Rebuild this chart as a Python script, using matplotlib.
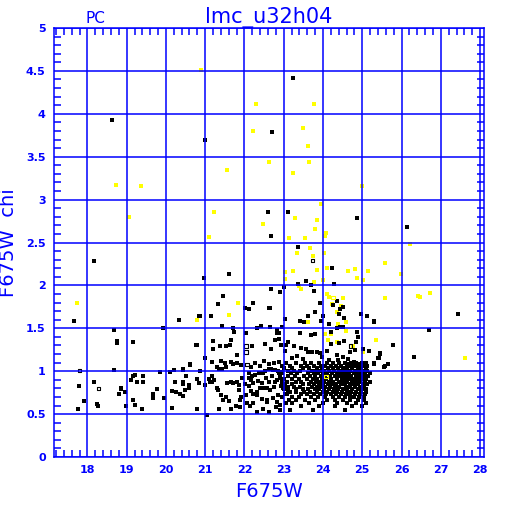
import numpy as np
import matplotlib
matplotlib.use("Agg")
from matplotlib import pyplot as plt
from matplotlib.ticker import MultipleLocator

# sparse black stars (F675W, chi)
sparse_pts = [
    (23.23, 4.42), (22.70, 3.79), (20.99, 3.69), (18.63, 3.93), (22.60, 2.85), (23.11, 2.86),
    (24.86, 2.79), (22.67, 2.58), (23.36, 2.45), (21.60, 2.13), (24.23, 2.20), (20.97, 2.09),
    (23.36, 2.02), (23.57, 2.05), (23.70, 2.00), (24.28, 2.02), (22.68, 1.96), (23.01, 1.98),
    (22.90, 1.92), (23.77, 1.94), (21.46, 1.88), (18.17, 2.28), (17.66, 1.59), (18.68, 1.48),
    (18.75, 1.35), (18.75, 1.33), (19.15, 1.34), (19.92, 1.50), (20.33, 1.60), (20.85, 1.64),
    (20.77, 1.31), (20.61, 1.07), (26.13, 2.68), (27.44, 1.67), (25.30, 1.59), (25.30, 1.57),
    (26.69, 1.48), (25.77, 1.31), (25.45, 1.21), (25.42, 1.15), (26.33, 1.17), (25.30, 1.09),
    (25.65, 1.08), (25.55, 1.05), (25.20, 0.98), (25.20, 0.87), (21.33, 1.78), (22.21, 1.80),
    (22.11, 1.73), (22.65, 1.74), (23.92, 1.80), (24.35, 1.82), (24.25, 1.77), (24.50, 1.75),
    (24.43, 1.72), (23.79, 1.69), (24.40, 1.67), (24.96, 1.67), (20.87, 1.64), (21.16, 1.64),
    (23.62, 1.64), (23.99, 1.64), (24.53, 1.62), (25.11, 1.64), (23.04, 1.61), (23.41, 1.58),
    (23.52, 1.57), (23.94, 1.58), (24.16, 1.55), (21.43, 1.53), (22.42, 1.53), (22.33, 1.50),
    (22.65, 1.51), (21.72, 1.50), (22.96, 1.51), (24.43, 1.51), (24.52, 1.52), (21.73, 1.46),
    (22.04, 1.45), (22.82, 1.48), (22.87, 1.44), (23.41, 1.44), (23.79, 1.43), (24.20, 1.46),
    (24.35, 1.50), (24.86, 1.46), (22.02, 1.74), (22.63, 1.74), (22.84, 1.45),
]

# left group, x < 21
left_pts = [
    (18.69, 1.01), (19.85, 0.99), (20.10, 0.99), (20.20, 1.01), (20.44, 1.01), (19.20, 0.96),
    (19.15, 0.94), (19.10, 0.90), (19.41, 0.94), (19.26, 0.87), (19.41, 0.87), (18.17, 0.87),
    (20.22, 0.87), (20.43, 0.86), (17.78, 0.83), (18.85, 0.80), (18.85, 0.79), (18.95, 0.76),
    (18.80, 0.73), (19.76, 0.79), (19.68, 0.73), (19.66, 0.69), (19.95, 0.69), (20.15, 0.77),
    (20.26, 0.76), (20.36, 0.73), (20.43, 0.71), (17.91, 0.65), (19.15, 0.66), (18.24, 0.62),
    (18.27, 0.59), (18.98, 0.59), (19.20, 0.61), (17.76, 0.56), (19.39, 0.56), (20.15, 0.57),
    (20.44, 1.03), (20.51, 0.95), (20.44, 0.87), (20.60, 0.81), (20.80, 0.56), (21.04, 0.49),
    (20.78, 1.31), (21.00, 1.15),
]

# 21 - 23 band
mid_pts = [
    (21.73, 1.46), (20.77, 1.31), (21.21, 1.35), (21.53, 1.29), (21.63, 1.31), (21.65, 1.36),
    (22.19, 1.29), (22.53, 1.32), (22.67, 1.26), (22.77, 1.36), (22.89, 1.38), (22.92, 1.30),
    (23.06, 1.30), (23.04, 1.23), (21.38, 1.29), (21.21, 1.26), (21.80, 1.19), (21.17, 1.11),
    (21.41, 1.12), (21.51, 1.10), (21.65, 1.11), (21.72, 1.08), (21.82, 1.10), (21.92, 1.07),
    (20.61, 1.08), (21.29, 1.05), (21.36, 1.02), (21.44, 1.02), (21.54, 1.05), (22.17, 1.05),
    (22.28, 1.09), (22.40, 1.06), (22.50, 1.12), (22.62, 1.08), (22.75, 1.09), (22.87, 1.11),
    (20.44, 0.85), (20.60, 0.84), (20.49, 0.78), (20.80, 0.91), (20.87, 1.00), (20.83, 0.86),
    (21.00, 0.84), (21.12, 0.87), (21.17, 0.87), (21.22, 0.90), (21.17, 0.95), (21.09, 0.91),
    (21.29, 0.81), (21.33, 0.78), (21.41, 0.72), (21.46, 0.66), (21.53, 0.70), (21.60, 0.65),
    (21.55, 0.86), (21.65, 0.88), (21.72, 0.86), (21.80, 0.87), (21.85, 0.84), (21.85, 0.78),
    (21.92, 0.70), (21.89, 0.66), (21.36, 0.56), (21.65, 0.56), (21.78, 0.59), (21.89, 0.58),
    (20.78, 0.56), (22.11, 0.92), (22.17, 0.90), (22.23, 0.86), (22.12, 0.83), (22.16, 0.77),
    (22.23, 0.74), (22.33, 0.76), (22.40, 0.80), (22.50, 0.81), (22.45, 0.86), (22.58, 0.80),
    (22.65, 0.78), (22.75, 0.82), (22.79, 0.87), (22.84, 0.90), (22.90, 0.92), (22.94, 0.83),
    (22.99, 0.81), (23.06, 0.80), (22.87, 0.98), (22.96, 0.99), (22.79, 1.01), (22.73, 1.01),
    (22.68, 1.03), (22.62, 1.02), (22.53, 1.00), (22.46, 0.98), (22.38, 0.98), (22.26, 0.96),
    (22.19, 0.94), (22.12, 0.98), (22.31, 0.72), (22.45, 0.68), (22.58, 0.66), (22.72, 0.69),
    (22.85, 0.72), (22.96, 0.70), (23.04, 0.74), (23.11, 0.77), (22.06, 0.63), (22.14, 0.59),
    (22.23, 0.63), (22.57, 0.64), (22.82, 0.64), (22.90, 0.61), (23.06, 0.63), (23.13, 0.66),
    (22.90, 0.55), (22.80, 0.58), (22.31, 0.52), (22.48, 0.56), (22.63, 0.52), (21.95, 0.92),
    (22.02, 0.85), (22.55, 0.92), (22.70, 0.95), (22.35, 0.89), (22.62, 0.88), (22.05, 0.72),
]

# upper part of the main clump, 23 - 25.8
upper_pts = [
    (23.41, 1.44), (23.69, 1.42), (23.80, 1.43), (23.12, 1.34), (23.25, 1.29), (23.44, 1.27),
    (23.56, 1.26), (23.63, 1.22), (23.73, 1.22), (23.85, 1.22), (23.92, 1.21), (24.09, 1.24),
    (24.20, 1.32), (24.41, 1.33), (24.53, 1.35), (24.83, 1.34), (24.90, 1.40), (25.02, 1.26),
    (25.17, 1.24), (25.44, 1.20), (25.39, 1.15), (25.58, 1.06), (25.77, 1.31), (25.29, 1.08),
    (24.70, 1.22), (24.82, 1.25), (24.36, 1.19), (24.51, 1.16), (24.63, 1.14), (24.37, 1.13),
    (24.65, 1.08), (24.78, 1.11), (24.90, 1.08), (25.10, 1.08), (23.20, 1.15), (23.35, 1.18),
    (23.50, 1.14), (23.98, 1.16), (24.15, 1.13),
]

# dense core, one row of x values per chi level
core_rows = {
    1.10: [23.05, 23.30, 23.55, 23.70, 23.90, 24.10, 24.25, 24.40, 24.55, 24.72, 24.85, 25.00, 25.10],
    1.065: [22.95, 23.15, 23.45, 23.60, 23.78, 23.95, 24.05, 24.20, 24.32, 24.45, 24.60,
            24.70, 24.80, 24.95, 25.05, 25.12],
    1.035: [23.00, 23.20, 23.50, 23.65, 23.85, 23.98, 24.12, 24.25, 24.38, 24.50, 24.62,
            24.75, 24.88, 24.98, 25.10],
    1.00: [22.85, 23.10, 23.25, 23.42, 23.72, 23.82, 23.92, 24.02, 24.15, 24.28, 24.40,
           24.52, 24.60, 24.70, 24.82, 24.92, 25.02, 25.12],
    0.975: [22.95, 23.18, 23.35, 23.62, 23.78, 23.88, 24.00, 24.10, 24.22, 24.35,
            24.45, 24.55, 24.65, 24.78, 24.88, 24.98, 25.08],
    0.94: [22.90, 23.12, 23.28, 23.52, 23.68, 23.80, 23.95, 24.05, 24.18, 24.30, 24.42,
           24.50, 24.60, 24.72, 24.85, 24.95, 25.05, 25.15],
    0.915: [23.00, 23.22, 23.38, 23.60, 23.75, 23.85, 23.98, 24.08, 24.20, 24.35,
            24.48, 24.58, 24.68, 24.80, 24.90, 25.00, 25.10],
    0.88: [22.95, 23.08, 23.30, 23.45, 23.70, 23.82, 23.92, 24.02, 24.15, 24.25, 24.40,
           24.52, 24.62, 24.75, 24.85, 24.95, 25.08],
    0.855: [23.02, 23.20, 23.50, 23.65, 23.78, 23.90, 24.00, 24.12, 24.22, 24.32, 24.45,
            24.55, 24.68, 24.78, 24.90, 25.02, 25.12],
    0.82: [23.10, 23.25, 23.42, 23.72, 23.85, 23.95, 24.05, 24.18, 24.30, 24.42, 24.58,
           24.70, 24.82, 24.95, 25.05],
    0.795: [23.00, 23.32, 23.48, 23.62, 23.80, 23.90, 24.02, 24.15, 24.28, 24.38, 24.50,
            24.62, 24.75, 24.88, 25.00, 25.10],
    0.76: [23.15, 23.30, 23.52, 23.68, 23.85, 24.00, 24.10, 24.25, 24.35, 24.48, 24.60, 24.72,
           24.85, 24.98, 25.10],
    0.735: [23.08, 23.45, 23.60, 23.78, 23.92, 24.08, 24.20, 24.32, 24.45, 24.58, 24.70,
            24.82, 24.95, 25.08],
    0.70: [23.20, 23.40, 23.70, 23.88, 24.05, 24.25, 24.40, 24.55, 24.68, 24.80, 24.92, 25.05],
    0.67: [23.30, 23.55, 23.80, 24.10, 24.30, 24.50, 24.70, 24.90, 25.05],
    0.63: [23.20, 23.65, 24.00, 24.35, 24.62, 24.85, 25.10],
    0.59: [23.45, 23.90, 24.30, 24.75, 25.00],
    0.55: [23.15, 23.75, 24.55],
}

hollow_black = [(17.80, 1.01), (18.28, 0.80), (22.04, 1.29), (22.04, 1.22), (22.06, 1.08),
                (24.70, 1.29), (23.73, 2.29)]

yellow_pts = [
    (18.73, 3.17), (19.36, 3.16), (19.05, 2.80), (17.73, 1.79), (20.78, 1.60), (20.89, 4.51),
    (22.29, 4.11), (23.77, 4.11), (22.21, 3.80), (23.50, 3.83), (23.62, 3.62), (22.63, 3.44),
    (23.64, 3.44), (21.55, 3.34), (23.23, 3.31), (24.99, 3.16), (23.94, 2.95), (21.22, 2.86),
    (23.29, 2.79), (22.48, 2.71), (23.84, 2.76), (23.79, 2.66), (24.08, 2.61), (24.04, 2.58),
    (21.09, 2.57), (23.13, 2.55), (23.53, 2.55), (23.67, 2.44), (23.33, 2.38), (24.03, 2.38),
    (23.74, 2.34), (23.03, 2.16), (23.24, 2.17), (23.84, 2.18), (24.09, 2.20), (24.64, 2.17),
    (24.81, 2.19), (25.15, 2.17), (24.86, 2.09), (25.01, 2.06), (23.02, 2.08), (24.01, 2.06),
    (23.77, 2.04), (23.40, 1.99), (23.43, 1.96), (24.11, 1.90), (24.15, 1.87), (24.50, 1.85),
    (25.57, 2.26), (25.57, 1.85), (21.84, 1.79), (21.60, 1.65), (24.23, 1.78), (24.36, 1.69),
    (24.45, 1.76), (23.62, 1.57), (24.59, 1.57), (24.38, 1.55), (24.06, 1.43), (24.20, 1.43),
    (24.59, 1.47), (24.13, 1.36), (24.36, 1.34), (24.76, 1.29), (25.02, 1.22), (25.34, 1.36),
    (27.61, 1.15), (26.21, 2.48), (25.98, 2.13), (26.42, 1.88), (26.47, 1.86), (26.73, 1.91),
]
hollow_yellow = [(24.26, 1.86), (24.08, 0.94)]

x_ticks = list(range(18, 29))
y_ticks = [0, 0.5, 1, 1.5, 2, 2.5, 3, 3.5, 4, 4.5, 5]
y_tick_labels = ["0", "0.5", "1", "1.5", "2", "2.5", "3", "3.5", "4", "4.5", "5"]

blue = "#0000ff"

core_pts = [(x, y) for y, xs in core_rows.items() for x in xs]
black = np.array(sparse_pts + left_pts + mid_pts + upper_pts + core_pts)
yellow = np.array(yellow_pts)
hb = np.array(hollow_black)
hy = np.array(hollow_yellow)

fig = plt.figure(figsize=(5.12, 5.12), dpi=100)
ax = fig.add_axes([0.1055, 0.1074, 0.8398, 0.8379])

ax.scatter(yellow[:, 0], yellow[:, 1], s=6, marker="s", c="#ffff00", linewidths=0, zorder=1)
ax.scatter(black[:, 0], black[:, 1], s=5, marker="s", c="black", linewidths=0, zorder=1)
ax.scatter(hb[:, 0], hb[:, 1], s=7, marker="s", facecolors="none", edgecolors="black",
           linewidths=0.8, zorder=1)
ax.scatter(hy[:, 0], hy[:, 1], s=7, marker="s", facecolors="none", edgecolors="#ffff00",
           linewidths=0.8, zorder=1)

ax.set_xlim(17.15, 28.1)
ax.set_ylim(0, 5)
ax.set_xticks(x_ticks)
ax.set_yticks(y_ticks)
ax.set_yticklabels(y_tick_labels)
ax.xaxis.set_minor_locator(MultipleLocator(0.2))
ax.yaxis.set_minor_locator(MultipleLocator(0.1))
# grid sits on top of the points, like the original
ax.set_axisbelow(False)
ax.grid(True, which="major", color=blue, linewidth=1.1)

for sp in ax.spines.values():
    sp.set_color(blue)
    sp.set_linewidth(1.1)

ax.tick_params(which="both", direction="in", colors=blue, top=True, right=True)
ax.tick_params(which="major", length=0, width=1.1, labelsize=8, pad=6)
ax.tick_params(which="minor", length=5, width=1.1)
for lab in ax.get_xticklabels() + ax.get_yticklabels():
    lab.set_fontweight("bold")

ax.set_xlabel("F675W", color=blue, fontsize=14, labelpad=5)
ax.set_ylabel("F675W  chi", color=blue, fontsize=14, labelpad=6)
ax.set_title("lmc_u32h04", color=blue, fontsize=15, pad=3)
fig.text(0.186, 0.964, "PC", color=blue, fontsize=11, ha="center", va="center")

fig.savefig("out.png", dpi=100)
